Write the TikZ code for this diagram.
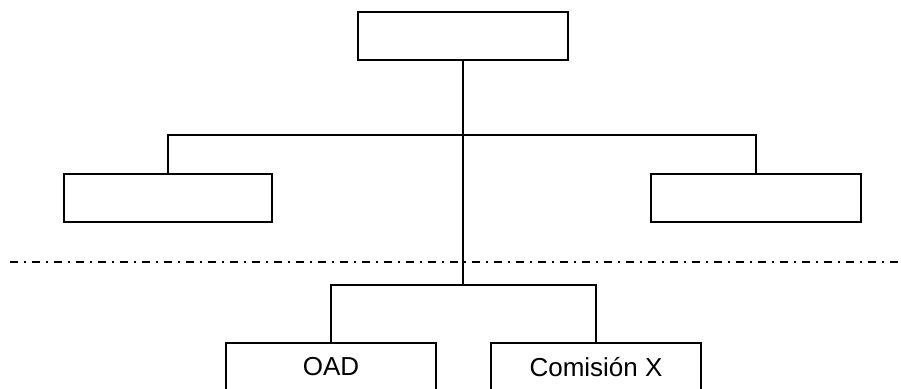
\documentclass[tikz,border=0pt]{standalone}
\usepackage{fontspec}
\setmainfont{Liberation Sans}
\begin{document}
\begin{tikzpicture}[x=1pt, y=-1pt]
  \tikzset{
    org_box/.style={rectangle, draw, line width=1.6pt, fill=white, minimum width=210pt, minimum height=48pt, inner sep=0pt, font=\fontsize{26}{30}\selectfont},
    org_line/.style={line width=1.6pt},
    sep_line/.style={line width=1.3pt, dash pattern=on 8pt off 6pt on 2pt off 6pt}
  }

  % Marco de la figura
  \useasboundingbox (0,0) rectangle (901,388);
  \clip (0,0) rectangle (901,388);

  % Cajas superiores (sin texto)
  \node[org_box] (top) at (463,36) {};
  \node[org_box, minimum width=208pt] (left) at (168,198) {};
  \node[org_box] (right) at (756,198) {};

  % Cajas inferiores (cortadas por abajo)
  \node[org_box] (oad) at (331,367) {OAD};
  \node[org_box] (comision) at (596,367) {\raisebox{-6pt}{Comisión X}};

  % Puntos de unión
  \coordinate (j1) at (463,135);
  \coordinate (j2) at (463,285);

  % Línea de separación
  \coordinate (sep_l) at (10,262);
  \coordinate (sep_r) at (900,262);
  \draw[sep_line] (sep_l) -- (sep_r);

  % Conexiones
  \draw[org_line] (top.south) -- (j2);
  \draw[org_line] (left.north) |- (j1) -| (right.north);
  \draw[org_line] (oad.north) |- (j2) -| (comision.north);
\end{tikzpicture}
\end{document}
